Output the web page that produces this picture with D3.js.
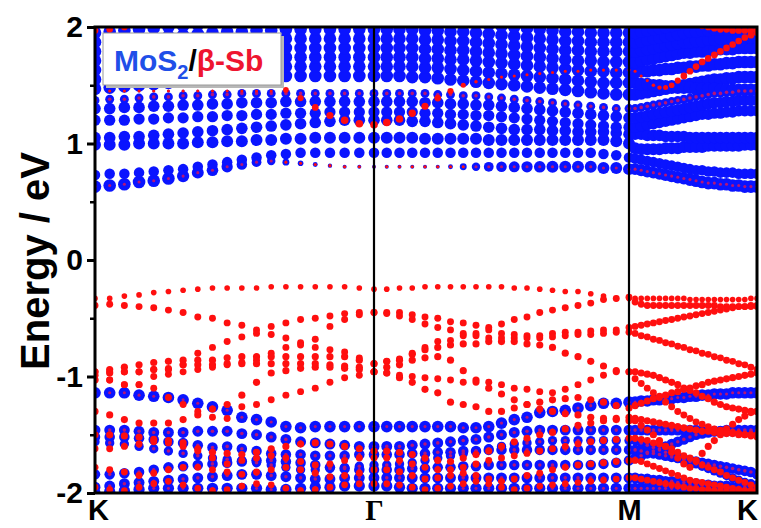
<!DOCTYPE html>
<html><head><meta charset="utf-8">
<script src="https://cdn.jsdelivr.net/npm/d3@7"></script>
<style>body{margin:0;background:#fff}svg{display:block}</style>
</head><body>
<svg id="chart" width="761" height="528"></svg>
<script>
// High-symmetry path K – Γ – M – K, sampled at k-point indices 0..60
const kLabels = ["K", "Γ", "M", "K"];
const kIndex = [0, 19, 39, 60];
const yTicks = [-2, -1, 0, 1, 2];
const yMinor = [-1.5, -0.5, 0.5, 1.5];

// ---- β-Sb projected valence bands (eV), K-Γ | Γ-M | M-K ----
const sbV1 = [-0.33,-0.33,-0.31,-0.30,-0.28,-0.27,-0.26,-0.25,-0.24,-0.24,-0.24,-0.24,-0.23,-0.23,-0.23,-0.23,-0.23,-0.23,-0.24,-0.25,
  -0.25,-0.24,-0.24,-0.23,-0.23,-0.23,-0.23,-0.23,-0.23,-0.23,-0.24,-0.24,-0.25,-0.26,-0.27,-0.27,-0.29,-0.31,-0.33,-0.33,
  -0.33,-0.33,-0.33,-0.33,-0.33,-0.33,-0.33,-0.33,-0.33,-0.34,-0.34,-0.34,-0.34,-0.34,-0.34,-0.34,-0.34,-0.34,-0.34,-0.33,-0.33];
const sbV2 = [-0.39,-0.38,-0.39,-0.40,-0.41,-0.43,-0.45,-0.49,-0.50,-0.54,-0.56,-0.60,-0.57,-0.54,-0.51,-0.50,-0.48,-0.46,-0.45,-0.45,
  -0.45,-0.45,-0.47,-0.49,-0.50,-0.53,-0.54,-0.56,-0.58,-0.63,-0.64,-0.65,-0.65,-0.63,-0.62,-0.62,-0.61,-0.60,-0.60,-0.58,
  -0.57,-0.56,-0.55,-0.54,-0.53,-0.52,-0.51,-0.50,-0.49,-0.48,-0.47,-0.46,-0.45,-0.44,-0.43,-0.42,-0.41,-0.40,-0.40,-0.39,-0.39];
const sbV3 = [-0.96,-0.96,-0.96,-0.96,-0.94,-0.93,-0.90,-0.80,-0.75,-0.70,-0.66,-0.63,-0.64,-0.67,-0.71,-0.75,-0.77,-0.79,-0.84,-0.89,
  -0.87,-0.85,-0.80,-0.75,-0.70,-0.69,-0.65,-0.63,-0.60,-0.55,-0.51,-0.49,-0.45,-0.43,-0.41,-0.39,-0.37,-0.34,-0.33,-0.32,
  -0.36,-0.38,-0.39,-0.39,-0.39,-0.39,-0.39,-0.39,-0.39,-0.39,-0.39,-0.39,-0.39,-0.39,-0.40,-0.40,-0.40,-0.40,-0.40,-0.40,-0.40];
const sbV4 = [-1.03,-1.03,-1.07,-1.07,-1.00,-0.98,-0.96,-0.94,-0.92,-0.90,-0.88,-0.86,-0.80,-0.75,-0.73,-0.68,-0.57,-0.51,-0.47,-0.45,
  -0.46,-0.48,-0.51,-0.55,-0.58,-0.60,-0.63,-0.65,-0.67,-0.67,-0.67,-0.67,-0.67,-0.66,-0.65,-0.64,-0.64,-0.63,-0.62,-0.62,
  -0.63,-0.65,-0.66,-0.68,-0.69,-0.71,-0.72,-0.74,-0.75,-0.77,-0.78,-0.80,-0.81,-0.83,-0.84,-0.86,-0.87,-0.89,-0.90,-0.92,-0.94];
const sbV5 = [-0.96,-0.94,-0.92,-0.90,-0.88,-0.87,-0.86,-0.86,-0.86,-0.84,-0.83,-0.83,-0.83,-0.83,-0.83,-0.83,-0.83,-0.83,-0.86,-0.89,
  -0.87,-0.86,-0.81,-0.77,-0.75,-0.73,-0.72,-0.72,-0.70,-0.70,-0.70,-0.72,-0.73,-0.75,-0.80,-0.83,-0.87,-0.91,-0.95,-0.96,
  -0.96,-0.97,-0.98,-0.99,-1.01,-1.03,-1.05,-1.07,-1.10,-1.12,-1.14,-1.17,-1.19,-1.22,-1.24,-1.26,-1.27,-1.28,-1.29,-1.30,-1.30];
const sbV6 = [-0.99,-0.97,-0.96,-0.96,-0.94,-0.94,-0.90,-0.90,-0.90,-0.89,-0.89,-0.89,-0.89,-0.89,-0.89,-0.89,-0.90,-0.91,-0.92,-0.96,
  -0.92,-0.90,-0.86,-0.84,-0.83,-0.86,-0.95,-1.03,-1.10,-1.15,-1.20,-1.24,-1.28,-1.30,-1.32,-1.33,-1.35,-1.36,-1.37,-1.38,
  -1.38,-1.42,-1.46,-1.50,-1.55,-1.60,-1.65,-1.70,-1.75,-1.78,-1.72,-1.66,-1.60,-1.55,-1.50,-1.45,-1.41,-1.37,-1.34,-1.31,-1.30];
const sbV7 = [-1.30,-1.33,-1.37,-1.40,-1.40,-1.40,-1.37,-1.33,-1.28,-1.24,-1.16,-1.05,-0.97,-0.95,-0.93,-0.92,-0.92,-0.93,-0.94,-0.96,
  -0.97,-1.01,-1.05,-1.11,-1.14,-1.22,-1.24,-1.26,-1.30,-1.30,-1.27,-1.24,-1.22,-1.20,-1.19,-1.18,-1.20,-1.22,-1.25,-1.27,
  -1.25,-1.23,-1.21,-1.19,-1.17,-1.16,-1.14,-1.13,-1.11,-1.10,-1.08,-1.07,-1.05,-1.04,-1.03,-1.02,-1.01,-1.00,-0.99,-0.98,-0.97];
const sbV8 = [-1.03,-1.03,-1.07,-1.07,-1.10,-1.18,-1.24,-1.30,-1.35,-1.36,-1.26,-1.24,-1.20,-1.16,-1.13,-1.10,-1.05,-1.01,-0.99,-0.96,
  -0.97,-0.99,-1.00,-1.01,-1.02,-1.03,-1.05,-1.05,-1.05,-1.07,-1.10,-1.11,-1.13,-1.14,-1.11,-1.07,-1.03,-0.99,-0.96,-0.96,
  -1.02,-1.06,-1.10,-1.14,-1.18,-1.22,-1.26,-1.30,-1.33,-1.36,-1.39,-1.41,-1.43,-1.45,-1.46,-1.47,-1.48,-1.49,-1.50,-1.51,-1.52];
const sbL1 = [-1.50,-1.50,-1.51,-1.52,-1.54,-1.55,-1.57,-1.62,-1.65,-1.66,-1.67,-1.65,-1.62,-1.60,-1.58,-1.57,-1.58,-1.60,-1.62,-1.64,
  -1.64,-1.65,-1.67,-1.70,-1.72,-1.73,-1.70,-1.67,-1.64,-1.60,-1.56,-1.53,-1.50,-1.48,-1.45,-1.42,-1.40,-1.38,-1.36,-1.35,
  -1.36,-1.37,-1.38,-1.39,-1.40,-1.41,-1.42,-1.43,-1.44,-1.45,-1.46,-1.47,-1.47,-1.48,-1.48,-1.49,-1.49,-1.50,-1.50,-1.50,-1.50];
const sbL2 = [-1.62,-1.62,-1.60,-1.58,-1.56,-1.57,-1.60,-1.64,-1.70,-1.75,-1.72,-1.70,-1.68,-1.70,-1.73,-1.76,-1.75,-1.72,-1.70,-1.70,
  -1.70,-1.72,-1.75,-1.78,-1.80,-1.80,-1.78,-1.75,-1.72,-1.70,-1.68,-1.66,-1.64,-1.62,-1.60,-1.58,-1.56,-1.55,-1.54,-1.53,
  -1.53,-1.54,-1.55,-1.57,-1.58,-1.60,-1.62,-1.65,-1.68,-1.70,-1.73,-1.76,-1.78,-1.80,-1.82,-1.85,-1.87,-1.89,-1.91,-1.93,-1.95];
const sbL3 = [-1.78,-1.80,-1.82,-1.85,-1.83,-1.80,-1.78,-1.78,-1.80,-1.82,-1.84,-1.82,-1.80,-1.78,-1.80,-1.83,-1.86,-1.85,-1.83,-1.80,
  -1.80,-1.82,-1.85,-1.88,-1.87,-1.85,-1.83,-1.85,-1.88,-1.90,-1.88,-1.85,-1.83,-1.80,-1.78,-1.76,-1.75,-1.74,-1.73,-1.72,
  -1.72,-1.73,-1.75,-1.77,-1.79,-1.81,-1.83,-1.85,-1.87,-1.89,-1.90,-1.91,-1.92,-1.93,-1.94,-1.95,-1.96,-1.97,-1.98,-1.98,-1.99];
const sbL4 = [-1.95,-1.97,-1.98,-1.95,-1.92,-1.90,-1.93,-1.96,-1.98,-1.97,-1.94,-1.92,-1.93,-1.96,-1.98,-1.97,-1.95,-1.93,-1.92,-1.92,
  -1.92,-1.93,-1.95,-1.97,-1.96,-1.94,-1.92,-1.90,-1.92,-1.95,-1.97,-1.96,-1.94,-1.93,-1.92,-1.91,-1.90,-1.89,-1.88,-1.87,
  -1.87,-1.88,-1.89,-1.90,-1.91,-1.92,-1.93,-1.94,-1.95,-1.96,-1.96,-1.97,-1.97,-1.98,-1.98,-1.99,-1.99,-2.00,-2.00,-2.00,-2.00];

// ---- MoS2 projected valence bands (eV) ----
const vb1 = [-1.14,-1.14,-1.14,-1.16,-1.17,-1.18,-1.20,-1.23,-1.26,-1.29,-1.35,-1.37,-1.39,-1.43,-1.44,-1.43,-1.43,-1.43,-1.43,-1.43,
  -1.43,-1.43,-1.43,-1.43,-1.43,-1.43,-1.44,-1.44,-1.43,-1.40,-1.37,-1.35,-1.31,-1.30,-1.29,-1.27,-1.25,-1.23,-1.23,-1.22,
  -1.22,-1.21,-1.21,-1.20,-1.20,-1.19,-1.19,-1.18,-1.18,-1.17,-1.17,-1.16,-1.16,-1.15,-1.15,-1.15,-1.14,-1.14,-1.14,-1.14,-1.14];
const vb2 = [-1.46,-1.46,-1.46,-1.47,-1.48,-1.48,-1.48,-1.47,-1.47,-1.47,-1.49,-1.50,-1.52,-1.54,-1.56,-1.57,-1.58,-1.59,-1.60,-1.60,
  -1.60,-1.60,-1.59,-1.58,-1.57,-1.56,-1.55,-1.54,-1.52,-1.50,-1.48,-1.47,-1.46,-1.46,-1.46,-1.46,-1.46,-1.46,-1.46,-1.46,
  -1.46,-1.46,-1.46,-1.46,-1.46,-1.46,-1.46,-1.46,-1.46,-1.46,-1.46,-1.47,-1.47,-1.47,-1.47,-1.47,-1.47,-1.47,-1.47,-1.47,-1.47];
const vb3 = [-1.52,-1.52,-1.52,-1.53,-1.54,-1.56,-1.57,-1.59,-1.61,-1.60,-1.62,-1.64,-1.66,-1.67,-1.67,-1.68,-1.68,-1.68,-1.67,-1.67,
  -1.67,-1.67,-1.66,-1.66,-1.65,-1.65,-1.64,-1.64,-1.63,-1.63,-1.63,-1.63,-1.63,-1.63,-1.63,-1.63,-1.63,-1.63,-1.63,-1.63,
  -1.63,-1.64,-1.65,-1.66,-1.67,-1.68,-1.69,-1.70,-1.71,-1.72,-1.73,-1.74,-1.75,-1.76,-1.77,-1.78,-1.79,-1.80,-1.81,-1.82,-1.84];
const vb4 = [-1.84,-1.84,-1.83,-1.82,-1.80,-1.78,-1.77,-1.76,-1.75,-1.74,-1.73,-1.72,-1.72,-1.73,-1.74,-1.76,-1.78,-1.79,-1.80,-1.80,
  -1.80,-1.80,-1.79,-1.79,-1.78,-1.78,-1.77,-1.77,-1.76,-1.76,-1.76,-1.76,-1.76,-1.76,-1.76,-1.76,-1.76,-1.75,-1.74,-1.72,
  -1.70,-1.68,-1.66,-1.64,-1.62,-1.60,-1.58,-1.56,-1.54,-1.52,-1.50,-1.49,-1.48,-1.47,-1.47,-1.46,-1.46,-1.46,-1.46,-1.46,-1.46];
const vb5 = [-1.95,-1.94,-1.92,-1.91,-1.90,-1.89,-1.88,-1.87,-1.86,-1.85,-1.84,-1.84,-1.85,-1.86,-1.87,-1.88,-1.88,-1.87,-1.87,-1.87,
  -1.87,-1.87,-1.87,-1.87,-1.87,-1.87,-1.87,-1.87,-1.87,-1.87,-1.87,-1.87,-1.87,-1.87,-1.87,-1.87,-1.87,-1.87,-1.87,-1.87,
  -1.87,-1.88,-1.88,-1.89,-1.89,-1.90,-1.90,-1.91,-1.91,-1.92,-1.92,-1.93,-1.93,-1.94,-1.94,-1.94,-1.95,-1.95,-1.95,-1.95,-1.95];
const vb6 = [-2.00,-1.99,-1.98,-1.97,-1.96,-1.96,-1.96,-1.96,-1.96,-1.96,-1.96,-1.96,-1.97,-1.97,-1.96,-1.95,-1.95,-1.94,-1.94,-1.94,
  -1.94,-1.95,-1.96,-1.96,-1.96,-1.96,-1.96,-1.96,-1.96,-1.96,-1.96,-1.96,-1.96,-1.96,-1.96,-1.96,-1.96,-1.96,-1.96,-1.96,
  -1.96,-1.96,-1.96,-1.96,-1.96,-1.96,-1.96,-1.96,-1.96,-1.96,-1.96,-1.96,-1.96,-1.96,-1.96,-1.96,-1.96,-1.96,-1.96,-1.96,-1.96];
const vb7 = [-1.56,-1.57,-1.58,-1.60,-1.62,-1.64,-1.66,-1.68,-1.70,-1.71,-1.72,-1.74,-1.76,-1.78,-1.80,-1.80,-1.79,-1.78,-1.77,-1.76,
  -1.76,-1.75,-1.74,-1.72,-1.70,-1.68,-1.66,-1.64,-1.62,-1.60,-1.58,-1.57,-1.56,-1.55,-1.55,-1.55,-1.55,-1.55,-1.55,-1.55,
  -1.55,-1.57,-1.59,-1.61,-1.63,-1.65,-1.67,-1.69,-1.71,-1.73,-1.75,-1.77,-1.79,-1.81,-1.83,-1.85,-1.87,-1.89,-1.91,-1.92,-1.93];

// ---- MoS2 projected conduction bands (eV) ----
const cb1 = [0.63,0.64,0.65,0.67,0.68,0.70,0.72,0.75,0.77,0.80,0.82,0.84,0.85,0.84,0.83,0.82,0.81,0.80,0.80,0.80,
  0.80,0.80,0.80,0.80,0.80,0.80,0.80,0.80,0.80,0.80,0.80,0.80,0.80,0.80,0.80,0.80,0.80,0.79,0.79,0.78,
  0.78,0.77,0.76,0.75,0.74,0.73,0.72,0.71,0.70,0.69,0.68,0.67,0.66,0.66,0.65,0.65,0.64,0.64,0.63,0.63,0.63];
const cb1Mo = [1,1,1,1,1,1,0.95,0.9,0.85,0.8,0.7,0.6,0.45,0.3,0.2,0.15,0.12,0.1,0.1,0.1,
  0.1,0.1,0.1,0.1,0.1,0.15,0.3,0.45,0.6,0.7,0.75,0.8,0.85,0.9,0.9,0.9,0.9,0.9,0.9,0.9,
  0.9,0.9,0.9,0.9,0.9,0.95,0.95,0.95,0.95,1,1,1,1,1,1,1,1,1,1,1,1];
const cb2 = [0.73,0.74,0.74,0.75,0.76,0.77,0.78,0.80,0.82,0.84,0.86,0.88,0.90,0.91,0.92,0.92,0.92,0.92,0.92,0.92,
  0.92,0.92,0.92,0.92,0.92,0.92,0.92,0.92,0.92,0.92,0.92,0.92,0.92,0.92,0.92,0.92,0.92,0.91,0.90,0.88,
  0.87,0.86,0.85,0.84,0.83,0.82,0.81,0.80,0.79,0.78,0.77,0.77,0.76,0.76,0.75,0.75,0.75,0.74,0.74,0.74,0.74];
const cb3 = [0.99,0.99,0.99,1.00,1.00,1.00,1.00,1.01,1.01,1.02,1.02,1.03,1.03,1.04,1.04,1.05,1.05,1.05,1.05,1.05,
  1.05,1.05,1.05,1.04,1.04,1.04,1.04,1.04,1.03,1.03,1.03,1.03,1.03,1.03,1.03,1.03,1.03,1.03,1.02,1.00,
  0.96,0.95,0.95,0.95,0.95,0.96,0.96,0.96,0.97,0.97,0.97,0.97,0.98,0.98,0.98,0.98,0.98,0.98,0.99,0.99,0.99];
const cb4 = [1.05,1.05,1.06,1.06,1.07,1.08,1.09,1.10,1.11,1.12,1.13,1.14,1.15,1.16,1.17,1.18,1.19,1.20,1.20,1.20,
  1.20,1.20,1.19,1.19,1.18,1.17,1.16,1.15,1.14,1.13,1.12,1.12,1.12,1.11,1.11,1.10,1.10,1.10,1.09,1.08,
  1.08,1.08,1.07,1.07,1.07,1.06,1.06,1.06,1.06,1.05,1.05,1.05,1.05,1.05,1.05,1.05,1.05,1.05,1.05,1.05,1.05];
const cb5 = [1.20,1.20,1.20,1.21,1.21,1.22,1.22,1.23,1.23,1.24,1.24,1.25,1.25,1.26,1.26,1.26,1.27,1.27,1.27,1.27,
  1.27,1.27,1.27,1.26,1.26,1.25,1.25,1.24,1.24,1.23,1.22,1.21,1.20,1.19,1.18,1.17,1.16,1.15,1.14,1.14,
  1.14,1.15,1.16,1.17,1.18,1.19,1.20,1.21,1.22,1.23,1.24,1.25,1.25,1.26,1.26,1.27,1.27,1.28,1.28,1.28,1.28];
const cb6 = [1.30,1.30,1.31,1.31,1.32,1.32,1.33,1.33,1.34,1.34,1.35,1.35,1.35,1.36,1.36,1.36,1.36,1.36,1.36,1.36,
  1.36,1.36,1.36,1.35,1.35,1.34,1.34,1.33,1.33,1.32,1.31,1.30,1.29,1.28,1.27,1.26,1.25,1.24,1.23,1.22,
  1.22,1.23,1.24,1.25,1.26,1.27,1.28,1.29,1.30,1.31,1.32,1.33,1.34,1.35,1.35,1.36,1.36,1.37,1.37,1.37,1.37];
const cb7 = [1.37,1.38,1.38,1.39,1.40,1.40,1.41,1.41,1.42,1.42,1.43,1.43,1.43,1.43,1.43,1.43,1.43,1.43,1.43,1.43,
  1.43,1.43,1.43,1.43,1.42,1.42,1.41,1.41,1.40,1.39,1.38,1.37,1.36,1.35,1.34,1.33,1.32,1.31,1.30,1.30,
  1.30,1.31,1.32,1.33,1.34,1.35,1.36,1.37,1.38,1.39,1.40,1.41,1.42,1.43,1.43,1.44,1.44,1.45,1.45,1.45,1.45];
const cb8 = [1.47,1.48,1.49,1.50,1.51,1.52,1.53,1.54,1.55,1.56,1.56,1.57,1.57,1.58,1.58,1.58,1.58,1.58,1.58,1.58,
  1.58,1.58,1.57,1.57,1.56,1.55,1.54,1.53,1.52,1.51,1.50,1.49,1.48,1.47,1.46,1.45,1.44,1.43,1.42,1.42,
  1.42,1.43,1.44,1.45,1.46,1.47,1.48,1.49,1.50,1.51,1.52,1.53,1.54,1.55,1.55,1.56,1.56,1.57,1.57,1.57,1.57];
const cb9 = [1.55,1.56,1.57,1.58,1.59,1.60,1.61,1.62,1.63,1.64,1.64,1.65,1.65,1.66,1.66,1.66,1.66,1.66,1.66,1.66,
  1.66,1.66,1.66,1.65,1.65,1.64,1.63,1.62,1.61,1.60,1.59,1.58,1.57,1.56,1.55,1.54,1.53,1.52,1.52,1.52,
  1.52,1.51,1.51,1.50,1.50,1.49,1.49,1.48,1.48,1.48,1.47,1.47,1.47,1.47,1.46,1.46,1.46,1.46,1.46,1.46,1.46];
const cb10 = [1.63,1.64,1.65,1.66,1.67,1.68,1.69,1.70,1.71,1.72,1.72,1.73,1.73,1.74,1.74,1.74,1.74,1.74,1.74,1.74,
  1.74,1.74,1.74,1.73,1.73,1.72,1.72,1.71,1.70,1.69,1.68,1.67,1.66,1.65,1.64,1.63,1.62,1.62,1.61,1.61,
  1.61,1.62,1.62,1.63,1.63,1.64,1.64,1.65,1.65,1.66,1.66,1.67,1.67,1.68,1.68,1.69,1.69,1.70,1.70,1.70,1.70];
const cb11 = [1.71,1.72,1.73,1.74,1.75,1.76,1.77,1.78,1.79,1.80,1.80,1.81,1.81,1.82,1.82,1.82,1.82,1.82,1.82,1.82,
  1.82,1.82,1.82,1.81,1.81,1.80,1.80,1.79,1.78,1.77,1.76,1.75,1.74,1.73,1.72,1.71,1.71,1.70,1.70,1.70,
  1.70,1.71,1.72,1.73,1.74,1.75,1.76,1.77,1.78,1.78,1.79,1.79,1.80,1.80,1.81,1.81,1.81,1.82,1.82,1.82,1.82];
const cb12 = [1.79,1.80,1.81,1.82,1.83,1.84,1.85,1.86,1.87,1.88,1.88,1.89,1.89,1.90,1.90,1.90,1.90,1.90,1.90,1.90,
  1.90,1.90,1.90,1.89,1.89,1.88,1.88,1.87,1.86,1.85,1.84,1.83,1.82,1.81,1.80,1.80,1.79,1.79,1.79,1.79,
  1.79,1.80,1.81,1.82,1.83,1.84,1.85,1.86,1.87,1.87,1.88,1.88,1.89,1.89,1.90,1.90,1.90,1.91,1.91,1.91,1.91];
const cb13 = [1.87,1.88,1.89,1.90,1.91,1.92,1.93,1.94,1.95,1.96,1.96,1.97,1.97,1.98,1.98,1.98,1.98,1.98,1.98,1.98,
  1.98,1.98,1.98,1.97,1.97,1.96,1.96,1.95,1.94,1.93,1.92,1.91,1.90,1.89,1.88,1.88,1.87,1.87,1.87,1.87,
  1.87,1.88,1.89,1.90,1.91,1.92,1.93,1.94,1.95,1.96,1.96,1.97,1.97,1.98,1.98,1.98,1.99,1.99,1.99,1.99,1.99];
const cb14 = [1.95,1.96,1.97,1.98,1.99,2.00,2.01,2.02,2.03,2.04,2.04,2.05,2.05,2.06,2.06,2.06,2.06,2.06,2.06,2.06,
  2.06,2.06,2.06,2.05,2.05,2.04,2.04,2.03,2.02,2.01,2.00,1.99,1.98,1.97,1.96,1.96,1.95,1.95,1.95,1.95,
  1.95,1.96,1.97,1.98,1.99,2.00,2.01,2.02,2.03,2.04,2.05,2.06,2.07,2.08,2.09,2.10,2.11,2.12,2.13,2.14,2.15];

// ---- β-Sb projected conduction bands (eV) ----
const sbC1 = [1.45,1.45,1.45,1.45,1.45,1.45,1.45,1.45,1.45,1.45,1.45,1.45,1.45,1.46,1.39,1.31,1.24,1.20,1.17,1.16,
  1.18,1.21,1.26,1.32,1.39,1.45,1.50,1.53,1.55,1.57,1.58,1.59,1.60,1.61,1.62,1.62,1.63,1.63,1.63,1.63,
  1.62,1.58,1.54,1.50,1.48,1.48,1.50,1.54,1.58,1.62,1.66,1.70,1.73,1.76,1.79,1.82,1.85,1.88,1.91,1.93,1.95];
const sbC1Sb = [0.15,0.15,0.15,0.15,0.15,0.15,0.15,0.15,0.15,0.15,0.15,0.15,0.15,0.5,0.6,0.7,0.8,0.9,0.9,0.9,
  0.9,0.9,0.85,0.8,0.7,0.6,0.4,0.2,0.15,0.15,0.15,0.15,0.15,0.15,0.15,0.15,0.15,0.15,0.15,0.15,
  0.15,0.15,0.15,0.2,0.3,0.4,0.5,0.6,0.7,0.7,0.7,0.7,0.7,0.7,0.7,0.7,0.7,0.7,0.7,0.7,0.7];
const sbC2 = [1.97,1.98,2.00,2.02,2.05,2.08,2.10,2.12,2.14,2.15,2.16,2.17,2.18,2.18,2.18,2.18,2.18,2.18,2.18,2.18,
  2.18,2.18,2.18,2.18,2.18,2.18,2.18,2.18,2.18,2.18,2.18,2.18,2.18,2.18,2.18,2.18,2.18,2.18,2.18,2.18,
  2.18,2.17,2.16,2.15,2.14,2.12,2.10,2.08,2.06,2.04,2.02,2.01,2.00,1.99,1.98,1.98,1.97,1.97,1.97,1.97,1.97];

// Band table: energies with MoS2 (mo) and Sb (sb) projection weights
const bands = [
  {e: cb1, mo: cb1Mo, sb: 0.15}, {e: cb2, mo: 0.7, sb: 0.1}, {e: cb3, mo: 0.9, sb: 0.1},
  {e: cb4, mo: 0.85, sb: 0.1}, {e: cb5, mo: 0.8, sb: 0.1}, {e: cb6, mo: 0.85, sb: 0.1},
  {e: cb7, mo: 0.5, sb: 0.2}, {e: cb8, mo: 1, sb: 0.1}, {e: cb9, mo: 1, sb: 0.1},
  {e: cb10, mo: 1, sb: 0.1}, {e: cb11, mo: 1, sb: 0.1}, {e: cb12, mo: 1, sb: 0.1},
  {e: cb13, mo: 1, sb: 0.1}, {e: cb14, mo: 1, sb: 0.1},
  {e: sbC1, mo: 0.05, sb: sbC1Sb}, {e: sbC2, mo: 0.05, sb: 0.7},
  {e: vb1, mo: 0.85, sb: 0.15}, {e: vb2, mo: 0.75, sb: 0.2}, {e: vb3, mo: 0.7, sb: 0.2},
  {e: vb4, mo: 0.7, sb: 0.2}, {e: vb5, mo: 0.75, sb: 0.2}, {e: vb6, mo: 0.8, sb: 0.15},
  {e: vb7, mo: 0.55, sb: 0.2},
  {e: sbV1, mo: 0, sb: 0.5}, {e: sbV2, mo: 0, sb: 0.75}, {e: sbV3, mo: 0, sb: 0.75},
  {e: sbV4, mo: 0, sb: 0.75}, {e: sbV5, mo: 0.02, sb: 0.8}, {e: sbV6, mo: 0.02, sb: 0.8},
  {e: sbV7, mo: 0.02, sb: 0.8}, {e: sbV8, mo: 0.02, sb: 0.75},
  {e: sbL1, mo: 0.05, sb: 0.8}, {e: sbL2, mo: 0.05, sb: 0.75}, {e: sbL3, mo: 0.05, sb: 0.75},
  {e: sbL4, mo: 0.05, sb: 0.7}
];

const svg = d3.select("#chart");
const m = {left: 95, right: 757, top: 27, bottom: 493};
const x = d3.scaleLinear().domain(kIndex).range([m.left, 374, 629, m.right]);
const y = d3.scaleLinear().domain([-2, 2]).range([m.bottom, m.top]);
const rMo = d3.scaleSqrt().domain([0, 1]).range([0, 6.3]);
const rSb = d3.scaleSqrt().domain([0, 1]).range([0, 4.0]);
const wAt = (w, i) => (typeof w === "number" ? w : w[i]);

// flatten bands into dot records
const dots = [];
bands.forEach(b => b.e.forEach((en, i) => {
  dots.push({k: i, en, mo: wAt(b.mo, i), sb: wAt(b.sb, i)});
}));

svg.append("defs").append("clipPath").attr("id", "plotClip")
  .append("rect").attr("x", m.left).attr("y", m.top)
  .attr("width", m.right - m.left).attr("height", m.bottom - m.top);

const g = svg.append("g").attr("clip-path", "url(#plotClip)");

g.append("g").selectAll("circle")
  .data(dots.filter(d => rMo(d.mo) > 0.8))
  .join("circle")
  .attr("cx", d => x(d.k)).attr("cy", d => y(d.en))
  .attr("r", d => rMo(d.mo))
  .attr("fill", "#0a14ff");

g.append("g").selectAll("circle")
  .data(dots.filter(d => rSb(d.sb) > 1.4))
  .join("circle")
  .attr("cx", d => x(d.k)).attr("cy", d => y(d.en))
  .attr("r", d => rSb(d.sb))
  .attr("fill", d => (d.mo > 0.3 && d.sb < 0.3) ? "#b4147a" : "#ff0f0f");

// high-symmetry lines
svg.append("g").selectAll("line")
  .data(kIndex.slice(1, 3))
  .join("line")
  .attr("x1", d => x(d)).attr("x2", d => x(d))
  .attr("y1", m.top).attr("y2", m.bottom)
  .attr("stroke", "#000").attr("stroke-width", 2.2);

// frame
svg.append("rect")
  .attr("x", m.left).attr("y", m.top)
  .attr("width", m.right - m.left).attr("height", m.bottom - m.top)
  .attr("fill", "none").attr("stroke", "#000").attr("stroke-width", 3);

// y axis: major and minor ticks
const fmt = d => (d < 0 ? "-" + Math.abs(d) : String(d));
const yAxis = svg.append("g").attr("transform", `translate(${m.left},0)`)
  .call(d3.axisLeft(y).tickValues(yTicks).tickSize(8).tickPadding(4).tickFormat(fmt));
yAxis.select(".domain").remove();
yAxis.selectAll(".tick line").attr("stroke-width", 3);
yAxis.selectAll(".tick text")
  .attr("font-family", "'Liberation Sans', Arial, sans-serif")
  .attr("font-weight", "bold").attr("font-size", 30).attr("fill", "#000");

const yMinorAxis = svg.append("g").attr("transform", `translate(${m.left},0)`)
  .call(d3.axisLeft(y).tickValues(yMinor).tickSize(5).tickFormat(""));
yMinorAxis.select(".domain").remove();
yMinorAxis.selectAll(".tick line").attr("stroke-width", 2.5);

// k-path labels
const xAxis = svg.append("g").attr("transform", `translate(0,${m.bottom})`)
  .call(d3.axisBottom(x).tickValues(kIndex).tickSize(0).tickPadding(6)
    .tickFormat((d, i) => kLabels[i]));
xAxis.select(".domain").remove();
xAxis.selectAll(".tick text")
  .attr("font-family", (d, i) => i === 1 ? "'Liberation Serif', 'Times New Roman', serif" : "'Liberation Sans', Arial, sans-serif")
  .attr("font-weight", "bold").attr("font-size", 29).attr("fill", "#000")
  .attr("dx", (d, i) => i === 0 ? 3 : (i === 3 ? -10 : 0));

// axis title
svg.append("text")
  .attr("transform", `translate(49,261) rotate(-90)`)
  .attr("text-anchor", "middle")
  .attr("font-family", "'Liberation Sans', Arial, sans-serif")
  .attr("font-weight", "bold").attr("font-size", 40)
  .text("Energy / eV");

// legend box
const lg = svg.append("g");
lg.append("rect").attr("x", 106).attr("y", 36).attr("width", 178).attr("height", 52)
  .attr("fill", "#b8b8b8");
lg.append("rect").attr("x", 103).attr("y", 33).attr("width", 178).attr("height", 52)
  .attr("fill", "#fff").attr("stroke", "#9a9a9a").attr("stroke-width", 1);
const lt = lg.append("text").attr("x", 114).attr("y", 71)
  .attr("font-family", "'Liberation Sans', Arial, sans-serif")
  .attr("font-weight", "bold").attr("font-size", 30);
lt.append("tspan").attr("fill", "#1f4fe8").text("MoS");
lt.append("tspan").attr("fill", "#1f4fe8").attr("font-size", 20).attr("dy", 8).text("2");
lt.append("tspan").attr("fill", "#000").attr("dy", -8).text("/");
lt.append("tspan").attr("fill", "#ee1530").text("β-Sb");
</script>
</body></html>
